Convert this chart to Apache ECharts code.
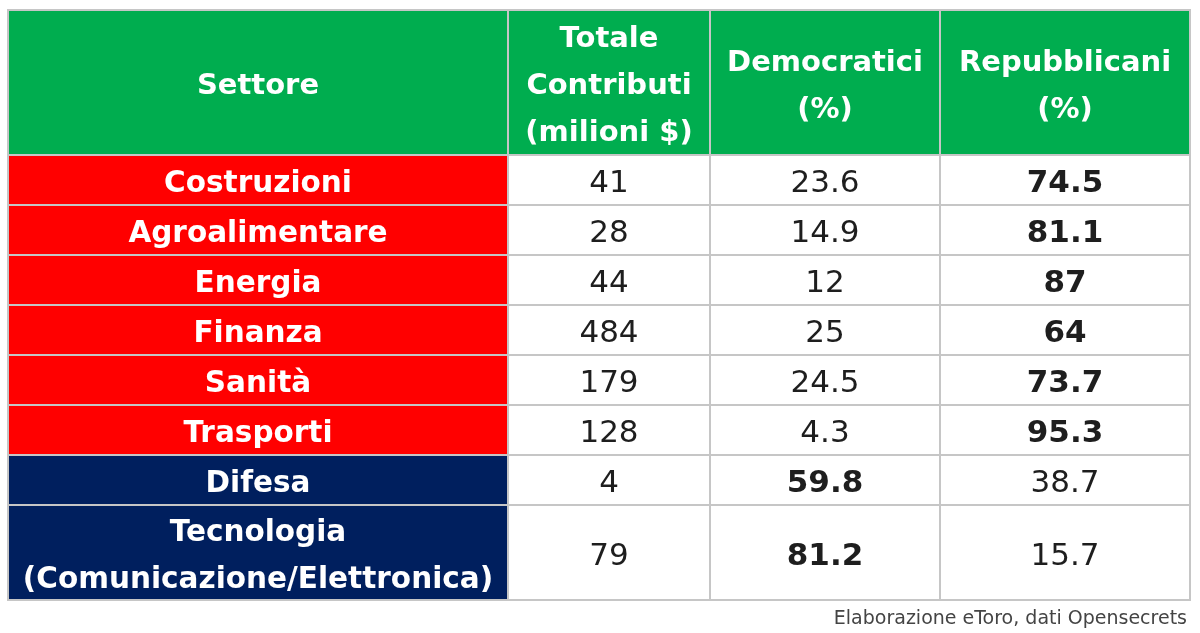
<!DOCTYPE html>
<html>
<head>
<meta charset="utf-8">
<title>Contributi per settore</title>
<script src="https://cdn.jsdelivr.net/npm/echarts@6.0.0/dist/echarts.min.js"></script>
<style>
  html, body { margin: 0; padding: 0; background: #fff; }
  #main { width: 1200px; height: 633px; }
</style>
</head>
<body>
<div id="main"></div>
<script type="text/javascript">
// dati della tabella
var headers = ['Settore', 'Totale\nContributi\n(milioni $)', 'Democratici\n(%)', 'Repubblicani\n(%)'];
var sectors = ['Costruzioni', 'Agroalimentare', 'Energia', 'Finanza', 'Sanità', 'Trasporti', 'Difesa', 'Tecnologia\n(Comunicazione/Elettronica)'];
var totals = [41, 28, 44, 484, 179, 128, 4, 79];
var democrats = [23.6, 14.9, 12, 25, 24.5, 4.3, 59.8, 81.2];
var republicans = [74.5, 81.1, 87, 64, 73.7, 95.3, 38.7, 15.7];
var majority = ['R', 'R', 'R', 'R', 'R', 'R', 'D', 'D'];
var source = 'Elaborazione eToro, dati Opensecrets';

// larghezze colonne e altezze righe (unita' degli assi)
var colWidths = [500, 202, 230, 250];
var headerHeight = 145;
function rowHeight(r) {
  if (r === 0) return headerHeight;
  return sectors[r - 1].split('\n').length > 1 ? 95 : 50;
}
var colStart = [0];
for (var i = 0; i < colWidths.length; i++) colStart.push(colStart[i] + colWidths[i]);
var rowStart = [0];
for (var r = 0; r <= sectors.length; r++) rowStart.push(rowStart[r] + rowHeight(r));

var cells = [];
for (var r = 0; r <= sectors.length; r++) {
  for (var c = 0; c < headers.length; c++) {
    cells.push([c, r]);
  }
}

function cellText(c, r) {
  if (r === 0) return headers[c];
  var k = r - 1;
  if (c === 0) return sectors[k];
  if (c === 1) return String(totals[k]);
  if (c === 2) return String(democrats[k]);
  return String(republicans[k]);
}

var FONT = '"DejaVu Sans", sans-serif';

function renderCell(params, api) {
  var c = api.value(0);
  var r = api.value(1);
  var p0 = api.coord([colStart[c], rowStart[r]]);
  var p1 = api.coord([colStart[c + 1], rowStart[r + 1]]);
  var k = r - 1;
  var fill = '#ffffff';
  var color = '#1e1e1e';
  var weight = 'normal';
  var size = 31;
  if (r === 0) {
    fill = '#00ad4f'; color = '#ffffff'; weight = 'bold'; size = 29;
  } else if (c === 0) {
    fill = majority[k] === 'R' ? '#ff0000' : '#001f5e';
    color = '#ffffff'; weight = 'bold'; size = 29.5;
  } else if ((c === 2 && majority[k] === 'D') || (c === 3 && majority[k] === 'R')) {
    weight = 'bold';
  }
  return {
    type: 'group',
    children: [{
      type: 'rect',
      shape: { x: p0[0], y: p0[1], width: p1[0] - p0[0], height: p1[1] - p0[1] },
      style: { fill: fill, stroke: '#c6c6c6', lineWidth: 2 }
    }, {
      type: 'text',
      style: {
        text: cellText(c, r),
        x: (p0[0] + p1[0]) / 2,
        y: (p0[1] + p1[1]) / 2 + 4,
        align: 'center',
        verticalAlign: 'middle',
        fill: color,
        fontFamily: FONT,
        fontWeight: weight,
        fontSize: size,
        lineHeight: 47
      }
    }]
  };
}

var myChart = echarts.init(document.getElementById('main'));
var option = {
  animation: false,
  grid: { left: 8, top: 10, width: colStart[colStart.length - 1], height: rowStart[rowStart.length - 1] },
  xAxis: { type: 'value', min: 0, max: colStart[colStart.length - 1], show: false },
  yAxis: { type: 'value', min: 0, max: rowStart[rowStart.length - 1], inverse: true, show: false },
  graphic: [{
    type: 'text',
    right: 13,
    top: 610,
    style: { text: source, fill: '#444', fontFamily: FONT, fontSize: 19 }
  }],
  series: [{
    type: 'custom',
    renderItem: renderCell,
    data: cells,
    silent: true
  }]
};
myChart.setOption(option);
</script>
</body>
</html>
